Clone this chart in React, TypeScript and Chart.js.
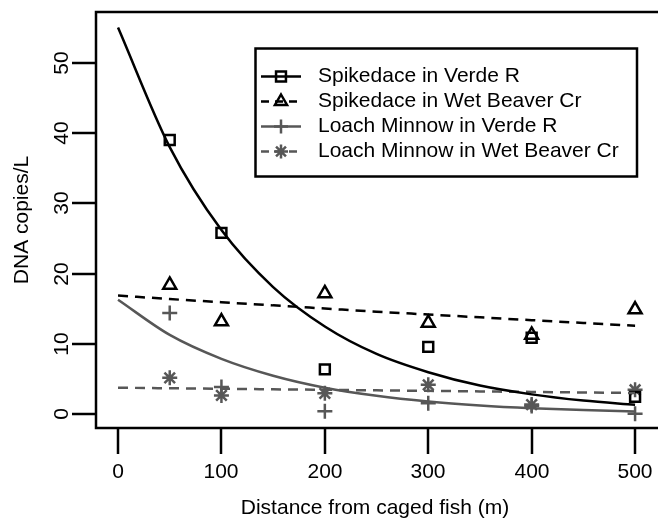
import React, { useEffect, useRef } from 'react';
import { Chart, registerables } from 'chart.js';

Chart.register(...registerables);

// Observed values (DNA copies/L) at each distance from caged fish (m)
const distances = [50, 100, 200, 300, 400, 500];
const spikedaceVerde = [39.0, 25.8, 6.4, 9.6, 10.9, 2.5];
const spikedaceWetBeaver = [18.4, 13.2, 17.2, 13.0, 11.3, 14.9];
const loachVerde = [14.4, 3.9, 0.45, 1.6, 1.2, 0.1];
const loachWetBeaver = [5.2, 2.7, 3.0, 4.2, 1.4, 3.5];

// Fitted curves
const fitDistances = [0, 50, 100, 150, 200, 250, 300, 350, 400, 450, 500];
const fitSpikedaceVerde = [55.0, 38.0, 26.2, 18.1, 12.5, 8.6, 6.0, 4.1, 2.85, 1.97, 1.36];
const fitSpikedaceWetBeaver = [16.9, 16.4, 15.95, 15.5, 15.05, 14.6, 14.2, 13.8, 13.4, 13.0, 12.6];
const fitLoachVerde = [16.3, 11.3, 7.9, 5.5, 3.8, 2.65, 1.84, 1.28, 0.89, 0.62, 0.43];
const fitLoachWetBeaver = [3.8, 3.72, 3.65, 3.57, 3.5, 3.42, 3.35, 3.27, 3.2, 3.12, 3.05];

const seriesLabels = [
  'Spikedace in Verde R',
  'Spikedace in Wet Beaver Cr',
  'Loach Minnow in Verde R',
  'Loach Minnow in Wet Beaver Cr',
];
const seriesColors = ['#000000', '#000000', '#575757', '#575757'];
const seriesDashed = [false, true, false, true];
const seriesMarkers = ['rect', 'triangle', 'cross', 'star'];

const xTicks = [0, 100, 200, 300, 400, 500];
const yTicks = [0, 10, 20, 30, 40, 50];
const xTitle = 'Distance from caged fish (m)';
const yTitle = 'DNA copies/L';

const FONT = '21px "Liberation Sans", Arial, Helvetica, sans-serif';
const DASH = [10, 7];

function zip(xs: number[], ys: number[]) {
  return xs.map((x, i) => ({ x, y: ys[i] }));
}

function drawMarker(ctx: CanvasRenderingContext2D, style: string, x: number, y: number, r: number) {
  ctx.beginPath();
  if (style === 'rect') {
    const s = Math.SQRT1_2 * r;
    ctx.rect(x - s, y - s, 2 * s, 2 * s);
  } else if (style === 'triangle') {
    ctx.moveTo(x, y - r);
    ctx.lineTo(x + r * 0.866, y + r * 0.5);
    ctx.lineTo(x - r * 0.866, y + r * 0.5);
    ctx.closePath();
  } else if (style === 'cross') {
    ctx.moveTo(x - r, y); ctx.lineTo(x + r, y);
    ctx.moveTo(x, y - r); ctx.lineTo(x, y + r);
  } else {
    ctx.moveTo(x - r, y); ctx.lineTo(x + r, y);
    ctx.moveTo(x, y - r); ctx.lineTo(x, y + r);
    const d = r * Math.SQRT1_2;
    ctx.moveTo(x - d, y - d); ctx.lineTo(x + d, y + d);
    ctx.moveTo(x - d, y + d); ctx.lineTo(x + d, y - d);
  }
  ctx.stroke();
}

const rAxesPlugin = {
  id: 'rAxes',
  afterDraw(chart: any) {
    const ctx: CanvasRenderingContext2D = chart.ctx;
    const { left, top, right, bottom } = chart.chartArea;
    const xs = chart.scales.x;
    const ys = chart.scales.y;
    ctx.save();
    ctx.strokeStyle = '#000';
    ctx.fillStyle = '#000';
    ctx.lineWidth = 2.5;
    ctx.setLineDash([]);
    // frame (right side lies outside the picture)
    ctx.beginPath();
    ctx.moveTo(right + 4, top);
    ctx.lineTo(left, top);
    ctx.lineTo(left, bottom);
    ctx.lineTo(right + 4, bottom);
    ctx.stroke();

    ctx.font = FONT;
    ctx.textAlign = 'center';
    ctx.textBaseline = 'middle';
    // x axis ticks
    xTicks.forEach((v) => {
      const px = Math.round(xs.getPixelForValue(v));
      ctx.beginPath();
      ctx.moveTo(px, bottom);
      ctx.lineTo(px, bottom + 26);
      ctx.stroke();
      ctx.fillText(String(v), px, bottom + 44);
    });
    ctx.fillText(xTitle, xs.getPixelForValue((xs.min + xs.max) / 2), bottom + 80);

    // y axis ticks
    yTicks.forEach((v) => {
      const py = Math.round(ys.getPixelForValue(v));
      ctx.beginPath();
      ctx.moveTo(left, py);
      ctx.lineTo(left - 24, py);
      ctx.stroke();
      ctx.save();
      ctx.translate(left - 34, py);
      ctx.rotate(-Math.PI / 2);
      ctx.fillText(String(v), 0, 0);
      ctx.restore();
    });
    ctx.save();
    ctx.translate(22, (top + bottom) / 2);
    ctx.rotate(-Math.PI / 2);
    ctx.fillText(yTitle, 0, 0);
    ctx.restore();

    // legend
    const lx = 255.5, ly = 48.5, lw = 381.5, lh = 128;
    ctx.lineWidth = 2.5;
    ctx.strokeRect(lx, ly, lw, lh);
    ctx.textAlign = 'left';
    seriesLabels.forEach((label, i) => {
      const y = 76.5 + i * 25;
      ctx.strokeStyle = seriesColors[i];
      ctx.fillStyle = seriesColors[i];
      ctx.lineWidth = 2.5;
      ctx.setLineDash(seriesDashed[i] ? [8, 6] : []);
      ctx.beginPath();
      ctx.moveTo(261, y);
      ctx.lineTo(301, y);
      ctx.stroke();
      ctx.setLineDash([]);
      drawMarker(ctx, seriesMarkers[i], 281, y, 7);
      ctx.fillStyle = '#000';
      ctx.fillText(label, 318, y);
    });
    ctx.restore();
  },
};

export default function App() {
  const canvasRef = useRef<HTMLCanvasElement | null>(null);

  useEffect(() => {
    const canvas = canvasRef.current;
    if (!canvas) return;
    const fits = [fitSpikedaceVerde, fitSpikedaceWetBeaver, fitLoachVerde, fitLoachWetBeaver];
    const obs = [spikedaceVerde, spikedaceWetBeaver, loachVerde, loachWetBeaver];

    const lineSets = fits.map((f, i) => ({
      type: 'line' as const,
      label: seriesLabels[i] + ' (fit)',
      data: zip(fitDistances, f),
      borderColor: seriesColors[i],
      borderWidth: 2.5,
      borderDash: seriesDashed[i] ? DASH : [],
      pointRadius: 0,
      fill: false,
      cubicInterpolationMode: 'monotone' as const,
      showLine: true,
    }));
    const pointSets = obs.map((o, i) => ({
      type: 'scatter' as const,
      label: seriesLabels[i],
      data: zip(distances, o),
      borderColor: seriesColors[i],
      backgroundColor: 'rgba(0,0,0,0)',
      pointStyle: seriesMarkers[i],
      pointRadius: i === 0 ? 7 : 7.5,
      pointBorderWidth: 2.5,
      showLine: false,
    }));

    const chart = new Chart(canvas, {
      type: 'scatter',
      data: { datasets: [...lineSets, ...pointSets] as any },
      options: {
        animation: false,
        responsive: false,
        devicePixelRatio: 1,
        layout: { padding: { left: 96, top: 12, right: 0, bottom: 93 } },
        plugins: { legend: { display: false }, tooltip: { enabled: false } },
        scales: {
          x: { type: 'linear', min: -21.3, max: 518.3, display: false },
          y: { type: 'linear', min: -1.93, max: 57.2, display: false },
        },
      },
      plugins: [rAxesPlugin],
    });
    return () => chart.destroy();
  }, []);

  return (
    <div style={{ position: 'absolute', left: 0, top: 0, width: 664, height: 521, background: '#fff', overflow: 'hidden' }}>
      <canvas ref={canvasRef} width={664} height={521} style={{ display: 'block' }} />
    </div>
  );
}
